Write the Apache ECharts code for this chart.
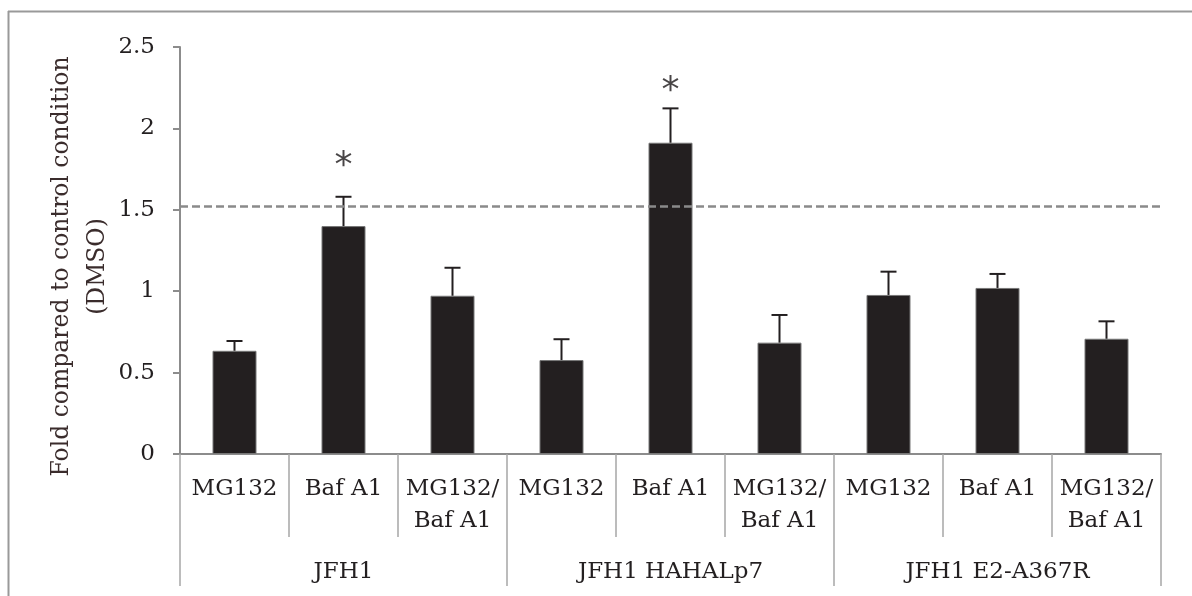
<!DOCTYPE html>
<html>
<head>
<meta charset="utf-8">
<script src="https://cdn.jsdelivr.net/npm/echarts@6/dist/echarts.min.js"></script>
<style>html,body{margin:0;padding:0;background:#fff;}#c{width:1192px;height:596px;}</style>
</head>
<body>
<div id="c"></div>
<script>
// ---- data ----
var treatments = ['MG132', 'Baf A1', 'MG132/\nBaf A1', 'MG132', 'Baf A1', 'MG132/\nBaf A1', 'MG132', 'Baf A1', 'MG132/\nBaf A1'];
var groups = ['JFH1', 'JFH1 HAHALp7', 'JFH1 E2-A367R'];
var foldValues = [0.634, 1.40, 0.972, 0.577, 1.912, 0.684, 0.977, 1.02, 0.708];
var errValues = [0.06, 0.18, 0.172, 0.128, 0.211, 0.17, 0.143, 0.086, 0.107];
var asteriskPos = [null, 1.80, null, null, 2.26, null, null, null, null];
var thresholdValue = 1.525;
var yTicks = { min: 0, max: 2.5, interval: 0.5 };

var FONT = 'DejaVu Serif';
var TXT = '#231f20';
var AX = '#8c8c8c';

var chart = echarts.init(document.getElementById('c'));
chart.setOption({
  animation: false,
  backgroundColor: '#fff',
  graphic: [
    { type: 'line', shape: { x1: 8, y1: 11.5, x2: 1192, y2: 11.5 }, style: { stroke: '#999', lineWidth: 2 } },
    { type: 'line', shape: { x1: 8.5, y1: 11, x2: 8.5, y2: 596 }, style: { stroke: '#999', lineWidth: 2 } }
  ],
  grid: { left: 180, right: 31, top: 47, bottom: 142, containLabel: false },
  xAxis: [
    {
      type: 'category',
      data: treatments,
      position: 'bottom',
      axisLine: { show: true, lineStyle: { color: AX, width: 2 } },
      axisTick: { show: true, length: 83, interval: 0, lineStyle: { color: '#a6a6a6', width: 1.5 } },
      axisLabel: { interval: 0, margin: 19, fontFamily: FONT, fontSize: 23, color: TXT, lineHeight: 32 },
      splitLine: { show: false }
    },
    {
      type: 'category',
      data: groups,
      position: 'bottom',
      axisLine: { show: false },
      axisTick: { show: true, length: 132, interval: 0, lineStyle: { color: '#a6a6a6', width: 1.5 } },
      axisLabel: { interval: 0, margin: 107, fontFamily: FONT, fontSize: 23, color: TXT },
      splitLine: { show: false }
    }
  ],
  yAxis: {
    type: 'value',
    min: yTicks.min, max: yTicks.max, interval: yTicks.interval,
    name: 'Fold compared to control condition\n(DMSO)',
    nameLocation: 'middle',
    nameRotate: 90,
    nameGap: 64,
    nameMoveOverlap: false,
    nameTextStyle: { fontFamily: FONT, fontSize: 23.5, color: '#3a2c2c', lineHeight: 36, padding: [0, 32, 0, 0] },
    axisLine: { show: true, lineStyle: { color: AX, width: 2 } },
    axisTick: { show: true, length: 7, lineStyle: { color: AX, width: 2 } },
    axisLabel: { margin: 25, fontFamily: FONT, fontSize: 23, color: TXT },
    splitLine: { show: false }
  },
  series: [
    {
      type: 'bar',
      xAxisIndex: 0,
      data: foldValues,
      barWidth: 44,
      itemStyle: { color: '#231f20', borderColor: '#777', borderWidth: 1 },
      markLine: {
        silent: true,
        symbol: 'none',
        label: { show: false },
        lineStyle: { type: [8, 4], color: '#8a8a8a', width: 2.5 },
        data: [{ yAxis: thresholdValue }]
      },
      z: 2
    },
    {
      type: 'custom',
      xAxisIndex: 0,
      data: foldValues.map(function (v, i) { return [i, v, errValues[i]]; }),
      renderItem: function (params, api) {
        var i = api.value(0), v = api.value(1), e = api.value(2);
        var p0 = api.coord([i, v]);
        var p1 = api.coord([i, v + e]);
        var hw = 8;
        return {
          type: 'group',
          children: [
            { type: 'line', shape: { x1: p0[0], y1: p0[1], x2: p1[0], y2: p1[1] }, style: { stroke: '#231f20', lineWidth: 2 } },
            { type: 'line', shape: { x1: p1[0] - hw, y1: p1[1], x2: p1[0] + hw, y2: p1[1] }, style: { stroke: '#231f20', lineWidth: 2 } }
          ]
        };
      },
      z: 3
    },
    {
      type: 'scatter',
      xAxisIndex: 0,
      data: asteriskPos,
      symbolSize: 1,
      itemStyle: { color: 'rgba(0,0,0,0)' },
      label: { show: true, position: 'inside', formatter: '*', fontFamily: 'DejaVu Sans', fontSize: 36, color: '#1a1718', offset: [0, 6] },
      z: 4
    }
  ]
});
</script>
</body>
</html>
